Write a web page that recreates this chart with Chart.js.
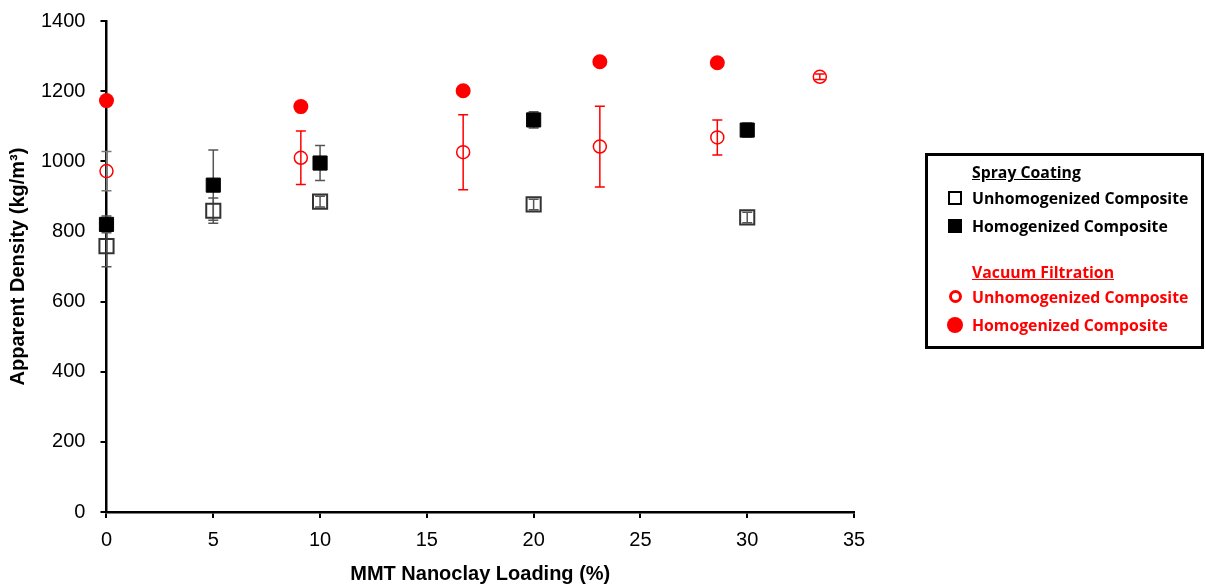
<!DOCTYPE html>
<html>
<head>
<meta charset="utf-8">
<script src="https://cdn.jsdelivr.net/npm/chart.js@4/dist/chart.umd.min.js"></script>
<style>
  body { margin: 0; background: #fff; }
  #wrap { position: relative; width: 1206px; height: 584px; }
  #legend {
    position: absolute; left: 925px; top: 153px; width: 273px; height: 190px;
    border: 3px solid #000; font-family: "Open Sans", sans-serif; font-weight: 700; font-size: 15.8px;
  }
  #legend .row { position: absolute; left: 0; height: 22px; line-height: 22px; white-space: nowrap; }
  #legend .head { left: 44px; text-decoration: underline; }
  #legend .txt { position: absolute; left: 44px; }
  #legend .mk { position: absolute; left: 20px; top: 4px; width: 14px; height: 14px; box-sizing: border-box; }
</style>
</head>
<body>
<div id="wrap">
  <canvas id="chart" width="1206" height="584"></canvas>
  <div id="legend">
    <div class="row head" style="top:5px">Spray Coating</div>
    <div class="row" style="top:31px"><span class="mk" style="border:2px solid #000"></span><span class="txt">Unhomogenized Composite</span></div>
    <div class="row" style="top:59px"><span class="mk" style="background:#000"></span><span class="txt">Homogenized Composite</span></div>
    <div class="row head" style="top:105px;color:#f00">Vacuum Filtration</div>
    <div class="row" style="top:130px;color:#f00"><span class="mk" style="border:3px solid #f00;border-radius:50%;width:13px;height:13px;left:21px"></span><span class="txt">Unhomogenized Composite</span></div>
    <div class="row" style="top:158px;color:#f00"><span class="mk" style="background:#f00;border-radius:50%;width:16px;height:16px;left:19px;top:3px"></span><span class="txt">Homogenized Composite</span></div>
  </div>
</div>
<script>
// Spray coating
const sprayX = [0, 5, 10, 20, 30];
const sprayUnhomY = [758, 859, 885, 877, 840];
const sprayUnhomErr = [59, 36, 15, 15, 15];
const sprayHomY = [820, 932, 995, 1118, 1089];
const sprayHomErr = [24, 100, 50, 23, 20];

// Vacuum filtration
const vacUnhomX = [0, 9.1, 16.7, 23.1, 28.6, 33.4];
const vacUnhomY = [972, 1010, 1026, 1042, 1068, 1241];
const vacUnhomErr = [56, 76, 107, 115, 50, 8];
const vacHomX = [0, 9.1, 16.7, 23.1, 28.6];
const vacHomY = [1173, 1156, 1201, 1284, 1281];

const toPoints = (xs, ys) => xs.map((x, i) => ({ x: x, y: ys[i] }));

// draws vertical error bars with caps (under the markers)
const errorBars = {
  id: 'errorBars',
  beforeDatasetsDraw(chart) {
    const ctx = chart.ctx;
    const yScale = chart.scales.y;
    chart.data.datasets.forEach((ds, di) => {
      if (!ds.errors) return;
      const meta = chart.getDatasetMeta(di);
      meta.data.forEach((pt, i) => {
        const e = ds.errors[i];
        if (!e) return;
        const v = ds.data[i].y;
        const top = yScale.getPixelForValue(v + e);
        const bot = yScale.getPixelForValue(v - e);
        ctx.save();
        ctx.strokeStyle = ds.errColors ? ds.errColors[i] : ds.errColor;
        ctx.lineWidth = 1.5;
        ctx.beginPath();
        ctx.moveTo(pt.x, top); ctx.lineTo(pt.x, bot);
        ctx.moveTo(pt.x - 5, top); ctx.lineTo(pt.x + 5, top);
        ctx.moveTo(pt.x - 5, bot); ctx.lineTo(pt.x + 5, bot);
        ctx.stroke();
        ctx.restore();
      });
    });
  }
};

const ctx = document.getElementById('chart').getContext('2d');
new Chart(ctx, {
  type: 'scatter',
  data: {
    datasets: [
      {
        label: 'Spray Unhomogenized', data: toPoints(sprayX, sprayUnhomY), errors: sprayUnhomErr, errColor: '#555',
        pointStyle: 'rect', pointRadius: 10, backgroundColor: 'rgba(255,255,255,0)', borderColor: '#333', borderWidth: 2
      },
      {
        label: 'Spray Homogenized', data: toPoints(sprayX, sprayHomY), errors: sprayHomErr, errColor: '#555',
        pointStyle: 'rect', pointRadius: 10, backgroundColor: '#000', borderColor: '#000', borderWidth: 1
      },
      {
        label: 'Vacuum Unhomogenized', data: toPoints(vacUnhomX, vacUnhomY), errors: vacUnhomErr,
        errColors: ['#777', '#f00', '#f00', '#f00', '#f00', '#f00'],
        pointStyle: 'circle', pointRadius: 6.5, backgroundColor: 'rgba(255,255,255,0)', borderColor: '#f00', borderWidth: 1.5
      },
      {
        label: 'Vacuum Homogenized', data: toPoints(vacHomX, vacHomY),
        pointStyle: 'circle', pointRadius: 7.5, backgroundColor: '#f00', borderColor: '#f00', borderWidth: 0
      }
    ]
  },
  options: {
    responsive: false,
    animation: false,
    clip: false,
    layout: { padding: { left: 6, right: 352, top: 21, bottom: -2 } },
    plugins: { legend: { display: false }, tooltip: { enabled: false } },
    scales: {
      x: {
        type: 'linear', min: 0, max: 35,
        ticks: { stepSize: 5, color: '#000', padding: 10, font: { family: 'Liberation Sans', size: 20 } },
        grid: { drawOnChartArea: false, color: '#000', lineWidth: 2, tickLength: 6 },
        border: { color: '#000', width: 2.5 },
        title: { display: true, text: 'MMT Nanoclay Loading (%)', color: '#000', padding: { top: 0, bottom: 0 },
          font: { family: 'Liberation Sans', size: 20, weight: 'bold' } }
      },
      y: {
        min: 0, max: 1400,
        afterFit: (s) => { s.paddingTop = 0; },
        ticks: { stepSize: 200, color: '#000', padding: 15, font: { family: 'Liberation Sans', size: 20 },
          callback: (v) => String(v) },
        grid: { drawOnChartArea: false, color: '#000', lineWidth: 2, tickLength: 6 },
        border: { color: '#000', width: 2.5 },
        title: { display: true, text: 'Apparent Density (kg/m³)', color: '#000', padding: { top: 0, bottom: -4 },
          font: { family: 'Liberation Sans', size: 20, weight: 'bold' } }
      }
    }
  },
  plugins: [errorBars]
});
</script>
</body>
</html>
